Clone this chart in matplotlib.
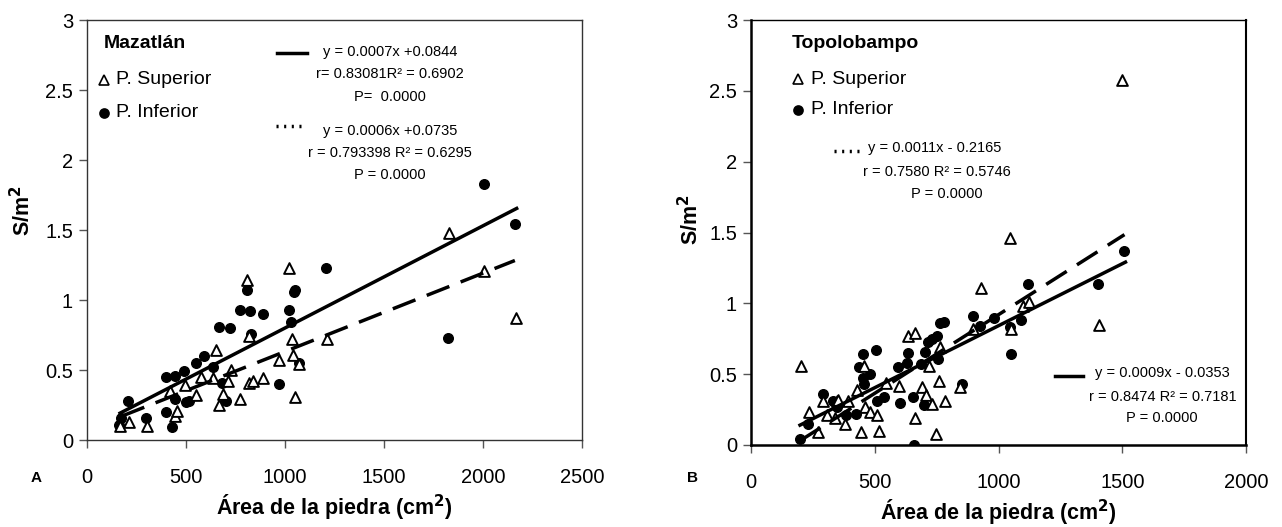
import numpy as np
import matplotlib
matplotlib.use("Agg")
import matplotlib.pyplot as plt

plt.rcParams['font.family'] = ['Liberation Sans', 'DejaVu Sans']

# --- Mazatlan (A) ---
maz_sup_x = [169, 213, 303, 446, 454, 418, 493, 552, 577, 635, 649, 669, 686, 711, 728, 775,
             808, 820, 820, 837, 890, 971, 1021, 1033, 1038, 1048, 1071, 1214, 1826, 2007, 2166]
maz_sup_y = [0.10, 0.13, 0.10, 0.17, 0.21, 0.35, 0.39, 0.32, 0.45, 0.44, 0.64, 0.25, 0.33, 0.42, 0.50, 0.29,
             1.14, 0.74, 0.41, 0.42, 0.44, 0.57, 1.23, 0.72, 0.61, 0.31, 0.54, 0.72, 1.48, 1.21, 0.87]
maz_inf_x = [163, 174, 208, 300, 397, 397, 431, 443, 443, 490, 498, 515, 548, 589, 635, 666, 682,
             703, 721, 773, 808, 822, 830, 887, 971, 1018, 1031, 1043, 1050, 1071, 1209, 1823, 2006, 2161]
maz_inf_y = [0.11, 0.16, 0.28, 0.16, 0.45, 0.20, 0.09, 0.46, 0.29, 0.49, 0.27, 0.28, 0.55, 0.60, 0.52, 0.81, 0.41,
             0.28, 0.80, 0.93, 1.07, 0.92, 0.76, 0.90, 0.40, 0.93, 0.84, 1.06, 1.07, 0.55, 1.23, 0.73, 1.83, 1.54]
# fitted lines as drawn: slope, intercept, x start, x end
maz_solid = [0.00073, 0.070, 167, 2170]
maz_dash = [0.00056, 0.072, 175, 2161]
maz_eq_solid = ["y = 0.0007x +0.0844", "r= 0.83081R² = 0.6902", "P=  0.0000"]
maz_eq_dash = ["y = 0.0006x +0.0735", "r = 0.793398 R² = 0.6295", "P = 0.0000"]

# --- Topolobampo (B) ---
top_sup_x = [201, 235, 270, 292, 309, 347, 340, 380, 390, 353, 428, 444, 457, 461, 481, 511, 517, 545,
             596, 636, 663, 663, 690, 708, 719, 733, 748, 758, 762, 785, 845, 895, 929, 1048, 1050,
             1099, 1123, 1405, 1501]
top_sup_y = [0.56, 0.23, 0.09, 0.31, 0.21, 0.31, 0.19, 0.15, 0.31, 0.32, 0.39, 0.09, 0.56, 0.27, 0.23, 0.21, 0.10, 0.44,
             0.42, 0.77, 0.79, 0.19, 0.41, 0.35, 0.56, 0.29, 0.08, 0.45, 0.69, 0.31, 0.41, 0.82, 1.11, 1.46, 0.82,
             0.98, 1.01, 0.85, 2.58]
top_inf_x = [198, 232, 292, 330, 347, 384, 425, 438, 452, 454, 457, 481, 505, 508, 538, 593, 600, 630,
             634, 654, 659, 688, 700, 705, 717, 731, 751, 762, 781, 755, 852, 895, 926, 983, 1045, 1050,
             1092, 1121, 1401, 1509]
top_inf_y = [0.04, 0.15, 0.36, 0.31, 0.27, 0.21, 0.22, 0.55, 0.64, 0.47, 0.43, 0.50, 0.67, 0.31, 0.34, 0.55, 0.30, 0.58,
             0.65, 0.34, 0.00, 0.57, 0.28, 0.66, 0.73, 0.75, 0.77, 0.86, 0.87, 0.61, 0.43, 0.91, 0.84, 0.90, 0.83, 0.64,
             0.88, 1.14, 1.14, 1.37]
top_solid = [0.000875, -0.033, 198, 1513]
top_dash = [0.00111, -0.190, 198, 1509]
top_eq_solid = ["y = 0.0009x - 0.0353", "r = 0.8474 R² = 0.7181", "P = 0.0000"]
top_eq_dash = ["y = 0.0011x - 0.2165", "r = 0.7580 R² = 0.5746", "P = 0.0000"]

W, H = 1282, 527
fig = plt.figure(figsize=(W / 100, H / 100), dpi=100)


def fx(px):
    return px / W


def fy(py):
    return 1 - py / H


def draw_panel(ax, sup_x, sup_y, inf_x, inf_y, solid, dash, xmax):
    ax.scatter(inf_x, inf_y, s=48, marker='o', facecolor='black', edgecolor='black', zorder=3)
    ax.scatter(sup_x, sup_y, s=60, marker='^', facecolor='white', edgecolor='black',
               linewidth=1.4, zorder=4)
    for fit, style in [(solid, '-'), (dash, (0, (7, 3.5)))]:
        xs = np.array([fit[2], fit[3]])
        ax.plot(xs, fit[0] * xs + fit[1], color='black', lw=2.5, linestyle=style, zorder=5)
    ax.set_xlim(0, xmax)
    ax.set_ylim(0, 3)
    ax.set_xticks(np.arange(0, xmax + 1, 500))
    ax.set_yticks([0, 0.5, 1, 1.5, 2, 2.5, 3])
    ax.set_yticklabels(['0', '0.5', '1', '1.5', '2', '2.5', '3'])
    ax.tick_params(direction='out', length=6, width=1, labelsize=14.5, pad=4, color='#555555')
    ax.tick_params(axis='x', pad=14)
    ax.set_xlabel('Área de la piedra (cm$^\\mathbf{2}$)', fontsize=15.5, fontweight='bold', labelpad=4)


# left panel
axA = fig.add_axes([fx(87), fy(440), fx(582 - 87), (440 - 20) / H])
draw_panel(axA, maz_sup_x, maz_sup_y, maz_inf_x, maz_inf_y, maz_solid, maz_dash, 2500)
for sp in axA.spines.values():
    sp.set_color('#333333')
    sp.set_linewidth(1.0)
axA.set_ylabel('S/m$^\\mathbf{2}$', fontsize=15.5, fontweight='bold')
axA.yaxis.set_label_coords(-0.104, 0.545)

# right panel
axB = fig.add_axes([fx(751), fy(445), fx(1246 - 751), (445 - 20) / H])
draw_panel(axB, top_sup_x, top_sup_y, top_inf_x, top_inf_y, top_solid, top_dash, 2000)
axB.spines['left'].set_linewidth(1.8)
axB.spines['bottom'].set_linewidth(1.8)
axB.spines['top'].set_linewidth(1.0)
axB.spines['right'].set_linewidth(1.5)
axB.set_ylabel('S/m$^\\mathbf{2}$', fontsize=15.5, fontweight='bold')
axB.yaxis.set_label_coords(-0.097, 0.53)


def ftext(px, py, s, **kw):
    fig.text(fx(px), fy(py), s, **kw)


def fmark(px, py, marker, face):
    fig.add_artist(plt.Line2D([fx(px)], [fy(py)], marker=marker, markersize=6.5,
                              markerfacecolor=face, markeredgecolor='black', markeredgewidth=1.2,
                              linestyle='none'))


def fseg(x0, x1, py, style):
    fig.add_artist(plt.Line2D([fx(x0), fx(x1)], [fy(py), fy(py)], color='black', lw=2.5,
                              linestyle=style))


# legend block left
ftext(104, 43, 'Mazatlán', fontsize=14, fontweight='bold', va='center')
fmark(104, 80, '^', 'white')
ftext(116, 80, 'P. Superior', fontsize=14, va='center')
fmark(104, 113, 'o', 'black')
ftext(116, 113, 'P. Inferior', fontsize=14, va='center')
fseg(277, 307, 53, '-')
for i, s in enumerate(maz_eq_solid):
    ftext(390, 52 + 22.5 * i, s, fontsize=10.5, ha='center', va='center')
fseg(276, 306, 126, (0, (0.6, 1.6)))
for i, s in enumerate(maz_eq_dash):
    ftext(390, 131 + 22 * i, s, fontsize=10.5, ha='center', va='center')
ftext(36, 478, 'A', fontsize=11, fontweight='bold', ha='center', va='center')

# legend block right
ftext(792, 44, 'Topolobampo', fontsize=14, fontweight='bold', va='center')
fmark(798, 79, '^', 'white')
ftext(811, 79, 'P. Superior', fontsize=14, va='center')
fmark(798, 110, 'o', 'black')
ftext(811, 110, 'P. Inferior', fontsize=14, va='center')
fseg(834, 864, 151, (0, (0.6, 1.6)))
ftext(935, 148, top_eq_dash[0], fontsize=10.5, ha='center', va='center')
ftext(937, 172, top_eq_dash[1], fontsize=10.5, ha='center', va='center')
ftext(947, 194, top_eq_dash[2], fontsize=10.5, ha='center', va='center')
fseg(1055, 1083, 376, '-')
ftext(1162, 373, top_eq_solid[0], fontsize=10.5, ha='center', va='center')
ftext(1163, 397, top_eq_solid[1], fontsize=10.5, ha='center', va='center')
ftext(1162, 418, top_eq_solid[2], fontsize=10.5, ha='center', va='center')
ftext(692, 478, 'B', fontsize=11, fontweight='bold', ha='center', va='center')

fig.savefig('out.png', dpi=100)
